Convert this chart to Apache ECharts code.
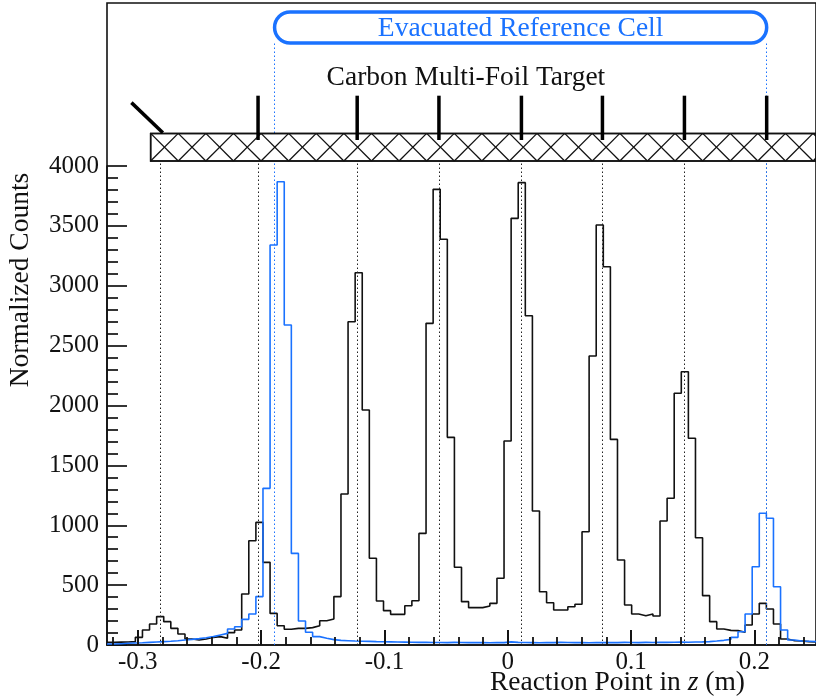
<!DOCTYPE html>
<html><head><meta charset="utf-8">
<script src="https://cdn.jsdelivr.net/npm/echarts@6/dist/echarts.min.js"></script>
<style>html,body{margin:0;padding:0;background:#fff}#c{width:816px;height:698px}</style>
</head><body><div id="c"></div>
<script>
// ---- data ----
const zLow = -0.325, zHigh = 0.25, nBins = 100;
const carbonCounts = [
  22,24,25,28,64,125,175,237,195,139,
  92,50,42,50,64,70,56,103,125,426,
  871,1024,690,264,161,131,139,139,145,161,
  203,217,404,1261,2700,3109,1962,724,367,287,
  256,256,328,370,932,2686,3805,3388,1734,649,
  362,312,312,326,348,557,1703,3563,3861,2750,
  1119,445,353,292,292,320,340,946,2413,3507,
  3159,1717,710,334,259,245,259,242,1035,1225,
  2102,2282,1726,896,412,195,134,122,120,106,
  167,259,348,301,175,50,36,33,28,25];
const emptyCellCounts = [
  8,11,14,17,19,22,25,28,31,36,
  42,47,53,61,70,84,97,134,153,214,
  259,404,1308,3340,3869,2672,765,200,106,70,
  56,45,39,36,33,31,30,28,27,26,
  25,24,23,22,22,21,21,20,22,21,
  20,21,20,19,21,20,26,22,21,20,
  19,21,20,22,21,20,21,19,21,20,
  21,20,22,21,20,22,21,23,22,23,
  24,23,25,26,28,33,39,47,64,111,
  259,654,1100,1058,487,125,42,33,31,28];
const xTickValues = [-0.3,-0.2,-0.1,0,0.1,0.2];
const xTickLabels = ['-0.3','-0.2','-0.1','0','0.1','0.2'];
const xMinorTickValues = [-0.32,-0.28,-0.26,-0.24,-0.22,-0.18,-0.16,-0.14,-0.12,-0.08,-0.06,-0.04,-0.02,0.02,0.04,0.06,0.08,0.12,0.14,0.16,0.18,0.22,0.24];
const foilZ = [-0.2818,-0.2025,-0.1221,-0.0558,0.0111,0.0768,0.1433,0.2100];
const cellZ = [-0.1891, 0.2100];
const titleY = 'Normalized Counts';
const titleX = 'Reaction Point in ';
const cellLabel = 'Evacuated Reference Cell';
const targetLabel = 'Carbon Multi-Foil Target';

// ---- styling constants ----
const FONT = 'Liberation Serif';
const BLUE = '#1a72ff';
const FS = 25;      // tick labels
const FT = 27.5;    // titles and annotations
const yFrameMax = 5361;
const TICK = {color:'#111', width:1.7};
const majorTickLen = 125, minorTickLen = 67;   // in count units of the frame scale (≈15 px, ≈8 px)

const bw = (zHigh - zLow) / nBins;
function histData(arr){
  const d = arr.map((v,i)=>[zLow + i*bw, v]);
  d.push([zHigh, arr[arr.length-1]]);
  return d;
}

const chart = echarts.init(document.getElementById('c'), null, {renderer:'canvas'});
const gridPos = {left:107, right:-6, bottom:53};

const markLines = foilZ.map(z=>[{coord:[z,0]},{coord:[z,4042]}]);
const blueLines = cellZ.map(z=>[{coord:[z,0]},{coord:[z,5027]}]);
const tickLines = xTickValues.map(t=>[{coord:[t,0]},{coord:[t,majorTickLen]}])
  .concat(xMinorTickValues.map(t=>[{coord:[t,0]},{coord:[t,minorTickLen]}]));

chart.setOption({
  animation:false,
  backgroundColor:'#fff',
  grid:[
    Object.assign({top:3, show:true, borderColor:'#111', borderWidth:1.6, backgroundColor:'transparent'}, gridPos),
    Object.assign({top:166}, gridPos)
  ],
  xAxis:[
    {gridIndex:0, type:'value', min:zLow, max:zHigh, show:false},
    {gridIndex:1, type:'value', position:'bottom', min:zLow, max:zHigh,
     axisLine:{show:true, onZero:false, lineStyle:{color:'#111', width:1.6}},
     splitLine:{show:false},
     axisTick:{show:true, inside:true, length:15, customValues:xTickValues, lineStyle:TICK},
     axisLabel:{show:true, customValues:xTickValues, margin:5, fontFamily:FONT, fontSize:FS, color:'#111',
       formatter:(v)=>{const i=xTickValues.findIndex(t=>Math.abs(t-v)<1e-9); return i>=0?xTickLabels[i]:'';}}}
  ],
  yAxis:[
    {gridIndex:0, type:'value', min:0, max:yFrameMax, show:false},
    {gridIndex:1, type:'value', min:0, max:4000, interval:500, position:'left',
     axisLine:{show:true, onZero:false, lineStyle:{color:'#111', width:1.6}},
     splitLine:{show:false},
     axisTick:{show:true, inside:true, length:20, lineStyle:TICK},
     minorTick:{show:true, splitNumber:5, length:11, lineStyle:TICK},
     minorSplitLine:{show:false},
     axisLabel:{margin:8, fontFamily:FONT, fontSize:FS, color:'#111', formatter:(v)=>String(v)}}
  ],
  series:[
    {type:'line', xAxisIndex:0, yAxisIndex:0, data:[], silent:true,
     markLine:{silent:true, symbol:'none', label:{show:false},
       lineStyle:{type:[1.5,2.5], color:'#222', width:1}, data:markLines}},
    {type:'line', xAxisIndex:0, yAxisIndex:0, data:[], silent:true,
     markLine:{silent:true, symbol:'none', label:{show:false},
       lineStyle:{type:[1.5,2.5], color:BLUE, width:1}, data:blueLines}},
    {type:'line', xAxisIndex:0, yAxisIndex:0, data:[], silent:true, z:20,
     markLine:{silent:true, symbol:'none', label:{show:false}, z:20,
       lineStyle:{type:'solid', color:'#111', width:1.8}, data:tickLines}},
    {name:'carbon', type:'line', xAxisIndex:1, yAxisIndex:1, step:'end', showSymbol:false,
     data:histData(carbonCounts), lineStyle:{color:'#111', width:1.6}},
    {name:'empty', type:'line', xAxisIndex:1, yAxisIndex:1, step:'end', showSymbol:false,
     data:histData(emptyCellCounts), lineStyle:{color:BLUE, width:1.6}}
  ]
});

// ---- annotations placed through the frame grid's scale ----
function P(z, v){ return chart.convertToPixel({gridIndex:0}, [z, v]); }
const g = [];
const bx0 = P(-0.2896, 4272)[0], by0 = P(0,4272)[1], by1 = P(0,4042)[1];
const bx1 = P(zHigh, 0)[0];
g.push({type:'rect', shape:{x:bx0, y:by0, width:bx1-bx0, height:by1-by0}, style:{fill:'#fff', stroke:'#111', lineWidth:1.5}, z:10});
const per = 27.6;
for(let x=bx0; x<bx1; x+=per){
  g.push({type:'line', shape:{x1:x, y1:by0, x2:x+per, y2:by1}, style:{stroke:'#111', lineWidth:1.3}, z:11});
  g.push({type:'line', shape:{x1:x, y1:by1, x2:x+per, y2:by0}, style:{stroke:'#111', lineWidth:1.3}, z:11});
}
g.push({type:'rect', shape:{x:bx0, y:by0, width:bx1-bx0, height:by1-by0}, style:{fill:'none', stroke:'#111', lineWidth:1.5}, z:12});
foilZ.slice(1).forEach(z=>{
  const a = P(z, 4587), b = P(z, 4217);
  g.push({type:'line', shape:{x1:a[0], y1:a[1], x2:b[0], y2:b[1]}, style:{stroke:'#000', lineWidth:3.5}, z:13});
});
{
  const a = P(foilZ[0]-0.0234, 4529), b = P(foilZ[0]+0.0021, 4278);
  g.push({type:'line', shape:{x1:a[0], y1:a[1], x2:b[0], y2:b[1]}, style:{stroke:'#000', lineWidth:3.5}, z:13});
}
{
  const a = P(cellZ[0], 5286), b = P(cellZ[1], 5027);
  g.push({type:'rect', shape:{x:a[0], y:a[1], width:b[0]-a[0], height:b[1]-a[1], r:15.5}, style:{fill:'#fff', stroke:BLUE, lineWidth:3.5}, z:13});
  g.push({type:'text', x:(a[0]+b[0])/2, y:(a[1]+b[1])/2+1, style:{text:cellLabel, fill:BLUE, font:FT+'px "'+FONT+'"', align:'center', verticalAlign:'middle'}, z:14});
}
{
  const c = P(-0.0339, 4735);
  g.push({type:'text', x:c[0], y:c[1], style:{text:targetLabel, fill:'#111', font:FT+'px "'+FONT+'"', align:'center', verticalAlign:'middle'}, z:14});
}
g.push({type:'text', x:21, y:280, rotation:Math.PI/2, style:{text:titleY, fill:'#111', font:FT+'px "'+FONT+'"', align:'center', verticalAlign:'middle'}, z:14});
g.push({type:'text', x:745, y:683, style:{text:'{a|'+titleX+'}{b|z}{a| (m)}', align:'right', verticalAlign:'middle',
  rich:{a:{fontFamily:FONT, fontSize:FT, fill:'#111'}, b:{fontFamily:FONT, fontSize:FT, fontStyle:'italic', fill:'#111'}}}, z:14});
chart.setOption({graphic:{elements:g}});
</script></body></html>
